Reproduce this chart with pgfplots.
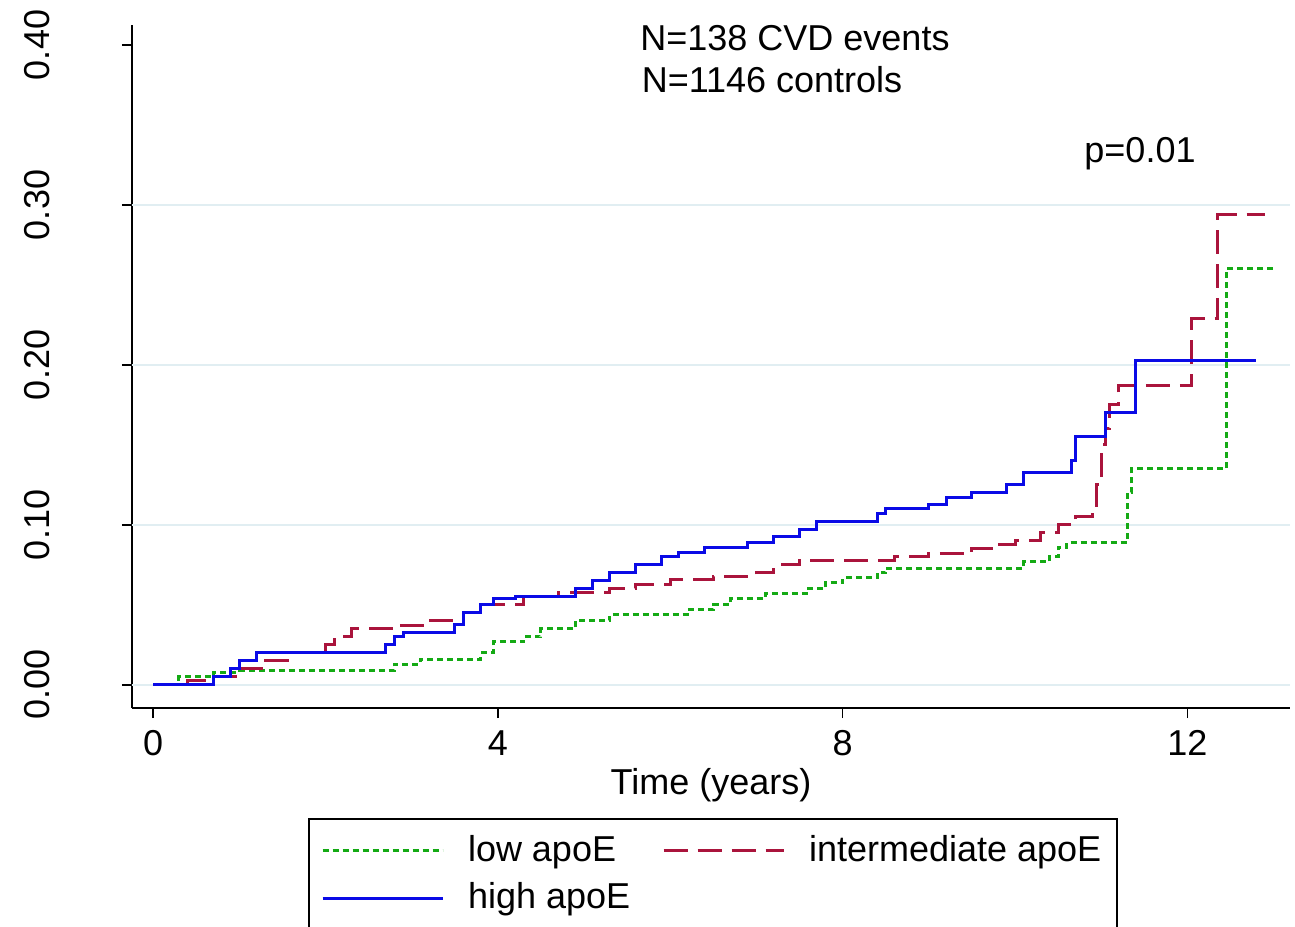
\documentclass[border=0pt]{standalone}
\usepackage{pgfplots}
\pgfplotsset{compat=1.18}
\usepackage{fontspec}
\setmainfont{Liberation Sans}
\definecolor{cg}{RGB}{20,170,20}
\definecolor{cr}{RGB}{170,20,60}
\definecolor{cb}{RGB}{10,10,230}
\definecolor{gridc}{RGB}{225,238,242}
\begin{document}
\fontsize{18pt}{21pt}\selectfont
\begin{tikzpicture}
\path[use as bounding box] (-66pt,-109pt) rectangle (581.5pt,354pt);
\begin{axis}[
  at={(0,0)}, anchor=south west, scale only axis,
  width=579pt, height=341.5pt,
  xmin=-0.244, xmax=13.19, ymin=-0.0144, ymax=0.4125,
  axis x line*=bottom, axis y line*=left,
  axis line style={line width=0.8pt,-},
  xtick={0,4,8,12}, ytick={0,0.1,0.2,0.3,0.4},
  yticklabels={0.00,0.10,0.20,0.30,0.40},
  yticklabel style={rotate=90, anchor=south},
  yticklabel shift=30pt,
  tick style={black, line width=0.8pt}, tick align=outside, major tick length=5pt,
  extra y ticks={0,0.1,0.2,0.3}, extra y tick labels={},
  extra y tick style={grid=major, major tick length=0pt},
  grid style={gridc, line width=0.8pt},
  /pgf/number format/assume math mode=true,
  ticklabel style={font=\fontsize{18pt}{21pt}\selectfont},
  xlabel={Time (years)}, xlabel style={yshift=6pt},
  label style={font=\fontsize{18pt}{21pt}\selectfont},
  legend columns=2, legend cell align=left,
  legend style={at={(0.152,-0.161)}, anchor=north west, draw=black, line width=1pt,
    font=\fontsize{18pt}{21pt}\selectfont, inner xsep=6pt, inner ysep=6pt,
    /tikz/every odd column/.append style={column sep=10pt},
    /tikz/every even column/.append style={column sep=14pt}, row sep=4pt},
  legend image code/.code={\draw[#1] (0pt,0pt) -- (60pt,0pt);},
  clip=false,
]
\addplot[const plot, cg, line width=1.5pt, dash pattern=on 3pt off 2pt] coordinates {
(0,0) (0.3,0.005) (0.7,0.008) (1.0,0.009) (2.8,0.013) (3.1,0.016) (3.8,0.02) (3.95,0.027) (4.3,0.03) (4.5,0.035) (4.9,0.04) (5.3,0.044) (6.2,0.047) (6.5,0.05) (6.7,0.054) (7.1,0.057) (7.6,0.06) (7.8,0.064) (8.0,0.067) (8.4,0.07) (8.5,0.073) (10.1,0.077) (10.4,0.08) (10.5,0.086) (10.6,0.089) (11.3,0.12) (11.35,0.135) (12.45,0.26) (13.0,0.26)};
\addlegendentry{low apoE}
\addplot[const plot, cr, line width=1.5pt, dash pattern=on 12pt off 5pt] coordinates {
(0,0) (0.4,0.003) (0.7,0.005) (1.0,0.01) (1.3,0.015) (1.6,0.02) (2.0,0.025) (2.1,0.03) (2.3,0.035) (2.8,0.037) (3.2,0.04) (3.6,0.045) (3.8,0.05) (4.3,0.055) (4.7,0.058) (5.3,0.06) (5.6,0.063) (6.0,0.066) (6.5,0.068) (7.0,0.07) (7.2,0.075) (7.5,0.078) (8.6,0.08) (9.0,0.082) (9.5,0.085) (9.8,0.088) (10.0,0.09) (10.3,0.095) (10.5,0.1) (10.7,0.105) (10.9,0.11) (10.95,0.125) (11.0,0.15) (11.05,0.16) (11.1,0.175) (11.2,0.187) (12.05,0.229) (12.35,0.294) (12.9,0.294)};
\addlegendentry{intermediate apoE}
\addplot[const plot, cb, line width=1.5pt] coordinates {
(0,0) (0.7,0.005) (0.9,0.01) (1.0,0.015) (1.2,0.02) (2.7,0.025) (2.8,0.03) (2.9,0.033) (3.5,0.038) (3.6,0.045) (3.8,0.05) (3.95,0.054) (4.2,0.055) (4.9,0.06) (5.1,0.065) (5.3,0.07) (5.6,0.075) (5.9,0.08) (6.1,0.083) (6.4,0.086) (6.9,0.089) (7.2,0.093) (7.5,0.097) (7.7,0.102) (8.4,0.107) (8.5,0.11) (9.0,0.113) (9.2,0.117) (9.5,0.12) (9.9,0.125) (10.1,0.133) (10.65,0.14) (10.7,0.155) (11.05,0.17) (11.4,0.203) (12.8,0.203)};
\addlegendentry{high apoE}
\end{axis}
\node[anchor=center] at (331.5pt,335pt) {N=138 CVD events};
\node[anchor=center] at (320pt,314pt) {N=1146 controls};
\node[anchor=center] at (504pt,277pt) {p=0.01};
\end{tikzpicture}
\end{document}
